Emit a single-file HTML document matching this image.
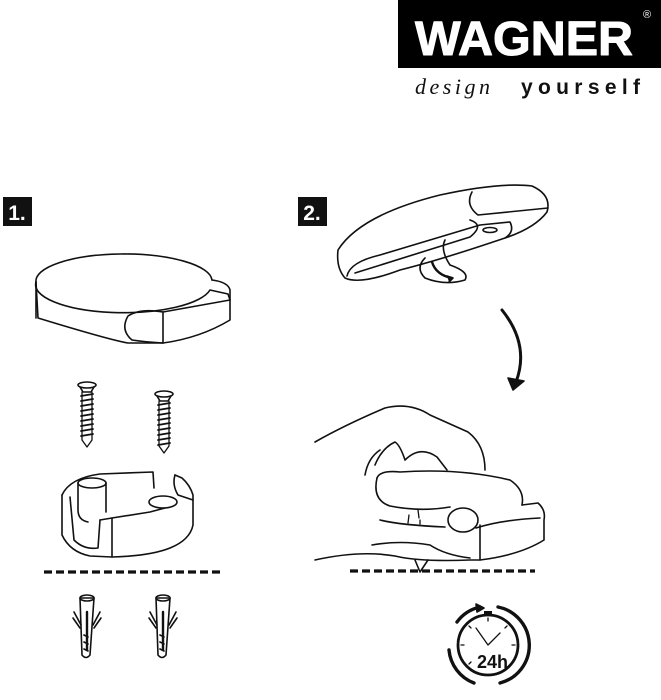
<!DOCTYPE html>
<html><head><meta charset="utf-8"><style>
html,body{margin:0;padding:0;background:#fff;width:661px;height:700px;overflow:hidden}
svg{display:block}
</style></head><body>
<svg width="661" height="700" viewBox="0 0 661 700" xmlns="http://www.w3.org/2000/svg" fill="none" stroke="#111" stroke-width="1.6" stroke-linejoin="round" stroke-linecap="round">
<!-- Logo -->
<rect x="398" y="0" width="263" height="68" fill="#000" stroke="none"/>
<text x="524" y="55" fill="#fff" stroke="#fff" stroke-width="1" font-family="Liberation Sans, sans-serif" font-weight="bold" font-size="48" text-anchor="middle" textLength="218" lengthAdjust="spacingAndGlyphs">WAGNER</text>
<text x="647" y="18" fill="#fff" stroke="none" font-family="Liberation Sans, sans-serif" font-size="11" text-anchor="middle">®</text>
<text x="415" y="94" fill="#111" stroke="none" font-family="Liberation Serif, serif" font-style="italic" font-size="22" letter-spacing="3.5">design</text>
<text x="521" y="94" fill="#111" stroke="none" font-family="Liberation Sans, sans-serif" font-weight="bold" font-size="21" textLength="119" lengthAdjust="spacing">yourself</text>

<!-- labels -->
<rect x="3" y="197" width="29" height="29" fill="#111" stroke="none"/>
<text x="17" y="220" fill="#fff" stroke="none" font-family="Liberation Sans, sans-serif" font-weight="bold" font-size="21" text-anchor="middle">1.</text>
<rect x="298" y="197" width="29" height="29" fill="#111" stroke="none"/>
<text x="312" y="220" fill="#fff" stroke="none" font-family="Liberation Sans, sans-serif" font-weight="bold" font-size="21" text-anchor="middle">2.</text>

<!-- Disc 1 -->
<path d="M36 282 A88 27 0 1 1 212 280"/>
<path d="M36 282 A88 28 0 0 0 210 290 L228 294 L230 300"/>
<path d="M212 280 Q228 282 230 290 L230 320 Q200 338 163 343 L128 343 Q110 340 38 318 L36 282"/>
<path d="M36 282 L36 318"/>
<path d="M163 343 L163 312 L230 300"/>
<path d="M163 312 Q140 308 128 316 Q120 330 132 340 Q145 342 163 343"/>

<!-- screws -->
<g>
<ellipse cx="87" cy="385" rx="9" ry="3"/>
<path d="M80 387 L83 392 L91 392 L94 387"/>
<path d="M82 392 L82 440 L87 447 L92 440 L92 392" stroke-width="1.3"/>
<path d="M81 396 l12 -2 M81 401 l12 -2 M81 406 l12 -2 M81 411 l12 -2 M81 416 l12 -2 M81 421 l12 -2 M81 426 l12 -2 M81 431 l12 -2 M81 436 l12 -2" stroke-width="1.8"/>
<ellipse cx="164" cy="394" rx="9" ry="3"/>
<path d="M157 396 L160 401 L168 401 L171 396"/>
<path d="M159 401 L159 446 L164 453 L169 446 L169 401" stroke-width="1.3"/>
<path d="M158 405 l12 -2 M158 410 l12 -2 M158 415 l12 -2 M158 420 l12 -2 M158 425 l12 -2 M158 430 l12 -2 M158 435 l12 -2 M158 440 l12 -2 M158 445 l12 -2" stroke-width="1.8"/>
</g>

<!-- bracket -->
<path d="M62 495 Q70 478 100 474 L153 472 L154 488"/>
<path d="M62 495 L62 535 Q70 552 90 556 L112 557 Q150 556 170 548 Q190 540 193 525 L193 495 Q190 485 182 478 L175 475"/>
<path d="M175 475 Q172 485 178 495 L193 500"/>
<ellipse cx="92" cy="483" rx="14" ry="5"/>
<path d="M78 483 L78 510 Q78 520 88 522 M106 483 L106 512"/>
<path d="M70 497 L74 540 Q84 550 98 548 L100 520"/>
<path d="M100 520 L112 518 L150 512 L165 508"/>
<ellipse cx="163" cy="502" rx="14" ry="6"/>
<path d="M112 518 L112 557"/>

<!-- dashed line 1 -->
<line x1="44" y1="572" x2="224" y2="572" stroke-width="3.2" stroke-dasharray="8 4" stroke-linecap="butt"/>

<!-- anchors -->
<g>
<path d="M80 598 L82 655 Q86 660 90 655 L94 598 Z"/>
<ellipse cx="87" cy="598" rx="7" ry="3"/>
<line x1="87" y1="612" x2="87" y2="650" stroke-width="2.4"/>
<path d="M81 625 L74 612 M93 625 L100 612 M80 628 L73 618 M94 628 L101 618"/>
<path d="M84 635 l4 2 M84 642 l4 2 M84 649 l4 2"/>
<path d="M156 598 L158 655 Q162 660 166 655 L170 598 Z"/>
<ellipse cx="163" cy="598" rx="7" ry="3"/>
<line x1="163" y1="612" x2="163" y2="650" stroke-width="2.4"/>
<path d="M157 625 L150 612 M169 625 L176 612 M156 628 L149 618 M170 628 L177 618"/>
<path d="M160 635 l4 2 M160 642 l4 2 M160 649 l4 2"/>
</g>

<!-- Disc 2 (flipped) -->
<path d="M338 250 Q360 215 440 195 Q500 182 532 186 Q552 195 547 212 Q535 228 505 238 Q440 260 400 270 Q360 285 345 278 Q336 268 338 250 Z"/>
<path d="M472 192 Q465 205 478 215 L548 208"/>
<path d="M347 276 Q350 262 380 255 L480 225 L510 222 Q515 232 505 238"/>
<path d="M355 273 L470 237 Q485 225 470 220"/>
<ellipse cx="490" cy="230" rx="7" ry="2.5"/>
<path d="M425 258 Q415 268 425 278 Q445 286 465 280 Q470 272 450 265 Q440 250 445 240"/>
<path d="M432 262 Q436 275 452 278" stroke-width="2.4"/>
<path d="M447 276 l6 2 l-4 4" fill="#111"/>

<!-- curved arrow -->
<path d="M502 310 Q530 345 516 382" stroke-width="3"/>
<path d="M508 378 L513 390 L524 381 Z" fill="#111"/>

<!-- hand -->
<path d="M315 442 Q345 425 385 408 Q410 402 430 415 L468 432 Q485 445 485 470"/>
<path d="M365 475 Q368 458 380 450 M375 465 Q382 448 395 442 Q400 445 405 460 M405 460 Q420 445 437 457 L447 470"/>
<path d="M377 478 Q380 470 400 472 Q460 468 510 480 Q525 490 522 505"/>
<path d="M377 478 Q372 500 390 506 Q420 512 450 507"/>
<path d="M522 505 L538 503 Q546 510 544 520 L544 540 Q520 555 480 560 L480 525"/>
<path d="M476 528 Q500 520 540 518"/>
<path d="M380 520 Q400 525 445 527"/>
<path d="M315 560 Q360 550 395 556 Q420 562 470 560 L480 560"/>
<path d="M372 545 Q400 540 430 545 Q445 555 470 558"/>
<ellipse cx="463" cy="520" rx="15" ry="12"/>
<path d="M409 515 l-1 8 M418 510 l1 8 M420 520 l0 4" stroke-width="1.3"/>
<path d="M415 560 L420 572 L428 560"/>

<!-- dashed line 2 -->
<line x1="350" y1="571" x2="535" y2="571" stroke-width="3.2" stroke-dasharray="8 4" stroke-linecap="butt"/>

<!-- clock -->
<circle cx="488" cy="645" r="30" stroke-width="2.8"/>
<path d="M457 622 A39 39 0 0 1 480 607" stroke-width="3.4"/>
<path d="M498 607 A39 39 0 0 1 500 683 M474 683 A39 39 0 0 1 449 650" stroke-width="3.4"/>
<path d="M476 604 L484 608 L477 612 Z" fill="#111"/>
<rect x="484" y="611" width="8" height="5" fill="#111" stroke="none"/>
<path d="M476 628 L488 645 L500 633" stroke-width="1.3"/>
<path d="M488 618 v3 M515 645 h-3 M461 645 h3 M507 626 l-2 2 M469 626 l2 2 M469 664 l2 -2" stroke-width="1.3"/>
<text x="477" y="668" fill="#111" stroke="none" font-family="Liberation Sans, sans-serif" font-weight="bold" font-size="18">24h</text>
</svg>
</body></html>
